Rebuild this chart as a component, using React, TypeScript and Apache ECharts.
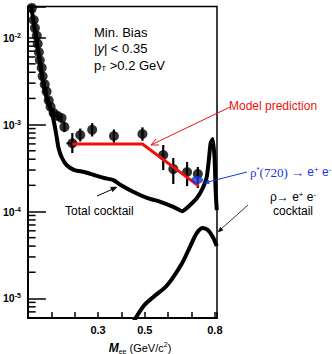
import React, { useEffect, useRef } from 'react';
import * as echarts from 'echarts';

// ---------- data ----------
const xTickLabels = [0.3, 0.5, 0.8];
const minorMultipliers = [2, 3, 4, 5, 6, 7, 8, 9];
const decades = [-6, -5, -4, -3, -2];

const dataMass = [0.017, 0.025, 0.030, 0.038, 0.042, 0.047, 0.051, 0.059, 0.063, 0.072, 0.080, 0.089, 0.097, 0.110, 0.127, 0.144, 0.156, 0.190, 0.224, 0.275, 0.368, 0.490, 0.579, 0.622, 0.681, 0.727];
const dataYield = [0.022, 0.016, 0.0129, 0.0105, 0.0085, 0.0068, 0.0055, 0.0045, 0.0036, 0.0029, 0.0024, 0.0019, 0.0016, 0.00136, 0.00126, 0.00119, 0.00094, 0.00061, 0.00076, 0.00087, 0.00074, 0.00078, 0.000446, 0.000308, 0.000285, 0.00027];
const errLow = [0.020, 0.0146, 0.0118, 0.0096, 0.0078, 0.0062, 0.0050, 0.0041, 0.0033, 0.00265, 0.0022, 0.00174, 0.00146, 0.00124, 0.00113, 0.00106, 0.00082, 0.000471, 0.00064, 0.00073, 0.00062, 0.00065, 0.0003, 0.000207, 0.000196, 0.000186];
const errHigh = [0.024, 0.0175, 0.0141, 0.0115, 0.0093, 0.0074, 0.0060, 0.0049, 0.0039, 0.00317, 0.0026, 0.00208, 0.00175, 0.00149, 0.0014, 0.00133, 0.00108, 0.0008, 0.0009, 0.00104, 0.00088, 0.00093, 0.000582, 0.000413, 0.000372, 0.000325];

// horizontal (bin-width) bar on the first high-mass point
const binLow = [0.165];
const binHigh = [0.211];
const binYield = [0.00061];

const cocktailMass = [0.013, 0.030, 0.047, 0.063, 0.080, 0.101, 0.114, 0.123, 0.131, 0.144, 0.165, 0.199, 0.241, 0.283, 0.326, 0.364, 0.397, 0.452, 0.512, 0.567, 0.622, 0.660, 0.685, 0.723, 0.748, 0.765, 0.774, 0.782, 0.791, 0.799, 0.803, 0.808];
const cocktailYield = [0.0238, 0.0123, 0.0063, 0.00326, 0.00202, 0.0014, 0.00099, 0.00072, 0.000538, 0.000424, 0.000343, 0.0003, 0.000285, 0.000263, 0.000243, 0.000231, 0.000202, 0.000168, 0.000143, 0.000129, 0.000113, 0.000101, 0.000113, 0.000143, 0.000186, 0.000249, 0.00039, 0.000615, 0.000683, 0.00039, 0.000177, 0.000104];

const rhoMass = [0.452, 0.495, 0.537, 0.588, 0.622, 0.660, 0.693, 0.723, 0.748, 0.770, 0.791, 0.808];
const rhoYield = [5.4e-6, 8.2e-6, 1.04e-5, 1.35e-5, 1.76e-5, 2.55e-5, 3.9e-5, 5.66e-5, 6.46e-5, 6.12e-5, 5.09e-5, 4.0e-5];

const modelMass = [0.190, 0.490, 0.731];
const modelYield = [0.000598, 0.000598, 0.000196];

const rhoStarMass = [0.724];
const rhoStarYield = [0.00023];

const X_MAX = 0.809;
const Y_MIN = 5.95e-6;
const Y_MAX = 0.02286;
// minor tick span along x, in axis units (about 7.5 px)
const MINOR_X0 = 0.002;
const MINOR_X1 = 0.033;

const FONT = '"Liberation Sans", Arial, Helvetica, sans-serif';
const SERIF = '"Liberation Serif", "Times New Roman", serif';
const BLUE = '#1638d8';
const RED = '#f01010';

function arrowHead(tip: number[], a: number[], b: number[], fill: string) {
  return { type: 'polygon', shape: { points: [tip, a, b] }, style: { fill, stroke: fill, lineWidth: 0.5 }, z: 100 };
}

export default function App() {
  const ref = useRef<HTMLDivElement>(null);
  useEffect(() => {
    const chart = echarts.init(ref.current!, null, { renderer: 'svg' });

    const minorTicks: number[][] = [];
    decades.forEach((d) => {
      minorMultipliers.forEach((m) => {
        const v = m * Math.pow(10, d);
        if (v > Y_MIN && v < Y_MAX) minorTicks.push([MINOR_X0, MINOR_X1, v]);
      });
    });

    const points = dataMass.map((x, i) => [x, dataYield[i]]);
    const errs = dataMass.map((x, i) => [x, errLow[i], errHigh[i]]);
    const bins = binLow.map((x, i) => [x, binHigh[i], binYield[i]]);

    const supRich = {
      n: { fontSize: 12, fontFamily: FONT, lineHeight: 14 },
      sup: { fontSize: 8, fontFamily: FONT, lineHeight: 6, verticalAlign: 'top' },
      sub: { fontSize: 8, fontFamily: FONT, lineHeight: 6, verticalAlign: 'bottom' },
      i: { fontSize: 13, fontFamily: FONT, fontStyle: 'italic', lineHeight: 15 },
      n13: { fontSize: 13, fontFamily: FONT, lineHeight: 15 },
      serif: { fontSize: 13, fontFamily: SERIF, lineHeight: 14 },
    };

    const text = (x: number, y: number, t: string, fill = '#000') => ({
      type: 'text',
      x,
      y,
      z: 100,
      style: {
        text: t,
        fill,
        font: `12px ${FONT}`,
        align: 'left',
        textAlign: 'left',
        verticalAlign: 'middle',
        textVerticalAlign: 'middle',
        rich: Object.fromEntries(Object.entries(supRich).map(([k, v]) => [k, { ...v, color: fill }])),
      },
    });

    const graphics: any[] = [
      text(94, 32, '{n13|Min. Bias}'),
      text(94, 48, '{n13||}{i|y}{n13|| < 0.35}'),
      text(94, 65, '{n13|p}{sub|T}{n13| >0.2 GeV}'),
      text(229, 106, '{n|Model prediction}', RED),
      text(250, 172, '{serif|ρ}{sup|*}{serif|(720) → }{n|e}{sup|+}{n| e}{sup|-}', BLUE),
      text(270, 197, '{n|ρ→ e}{sup|+}{n| e}{sup|-}'),
      text(273, 211, '{n|cocktail}'),
      text(65, 211, '{n|Total cocktail}'),
      {
        type: 'text',
        x: 140,
        y: 348,
        z: 100,
        style: {
          text: '{m|M}{sub|ee}{n| (GeV/c}{sup|2}{n|)}',
          fill: '#000',
          align: 'center',
          textAlign: 'center',
          verticalAlign: 'middle',
          textVerticalAlign: 'middle',
          rich: {
            m: { fontSize: 12, fontWeight: 'bold', fontStyle: 'italic', fontFamily: FONT, lineHeight: 14 },
            n: { fontSize: 11, fontFamily: FONT, lineHeight: 14 },
            sub: { fontSize: 7, fontFamily: FONT, lineHeight: 5, verticalAlign: 'bottom' },
            sup: { fontSize: 7, fontFamily: FONT, lineHeight: 5, verticalAlign: 'top' },
          },
        },
      },
      // total cocktail arrow
      { type: 'line', shape: { x1: 97, y1: 196, x2: 114, y2: 188.5 }, style: { stroke: '#000', lineWidth: 1 }, z: 100 },
      arrowHead([117, 187], [112.6, 191.7], [110.5, 187.2], '#000'),
      // model prediction arrow
      { type: 'line', shape: { x1: 230, y1: 107, x2: 151, y2: 145 }, style: { stroke: RED, lineWidth: 1 }, z: 100 },
      { type: 'polyline', shape: { points: [[159, 145], [151, 145], [156, 139]] }, style: { stroke: RED, lineWidth: 1, fill: 'none' }, z: 100 },
      // rho* arrow
      { type: 'line', shape: { x1: 247, y1: 172, x2: 207, y2: 182.2 }, style: { stroke: BLUE, lineWidth: 1 }, z: 100 },
      arrowHead([204, 183], [209.3, 183.7], [208.3, 179.9], BLUE),
      // rho cocktail arrow
      { type: 'line', shape: { x1: 248, y1: 205, x2: 220, y2: 230 }, style: { stroke: '#000', lineWidth: 0.8 }, z: 100 },
      arrowHead([218, 232], [223, 230.2], [220.4, 227.2], '#000'),
    ];

    chart.setOption({
      animation: false,
      backgroundColor: '#fff',
      grid: { left: 26, right: 115, top: 6.5, bottom: 36, show: true, borderColor: '#000', borderWidth: 1.5 },
      xAxis: {
        type: 'value',
        min: 0,
        max: X_MAX,
        interval: 0.1,
        axisLine: { show: true, onZero: false, lineStyle: { color: '#000', width: 2 } },
        axisTick: { show: true, inside: true, length: 6, lineStyle: { color: '#000', width: 1.5 } },
        axisLabel: {
          margin: 6,
          color: '#000',
          fontWeight: 'bold',
          fontSize: 11,
          fontFamily: FONT,
          formatter: (v: number) => (xTickLabels.some((t) => Math.abs(t - v) < 1e-6) ? v.toFixed(1) : ''),
        },
        splitLine: { show: false },
      },
      yAxis: {
        type: 'log',
        logBase: 10,
        min: Y_MIN,
        max: Y_MAX,
        axisLine: { show: true, onZero: false, lineStyle: { color: '#000', width: 2 } },
        axisTick: { show: true, inside: true, length: 18, lineStyle: { color: '#000', width: 1.5 } },
        axisLabel: {
          margin: 7,
          color: '#000',
          formatter: (v: number) => {
            const l = Math.log10(v);
            const r = Math.round(l);
            if (Math.abs(l - r) > 1e-6) return '';
            return `{b|10}{s|${r}}`;
          },
          rich: {
            b: { fontSize: 10.5, fontWeight: 'bold', fontFamily: FONT, color: '#000', lineHeight: 12 },
            s: { fontSize: 7, fontWeight: 'bold', fontFamily: FONT, color: '#000', lineHeight: 5, verticalAlign: 'top' },
          },
        },
        splitLine: { show: false },
      },
      series: [
        {
          type: 'custom',
          name: 'minorTicks',
          data: minorTicks,
          encode: { x: [0, 1], y: 2 },
          z: 10,
          silent: true,
          renderItem: (params: any, api: any) => {
            const v = api.value(2);
            const p1 = api.coord([api.value(0), v]);
            const p2 = api.coord([api.value(1), v]);
            return { type: 'line', shape: { x1: p1[0], y1: p1[1], x2: p2[0], y2: p2[1] }, style: { stroke: '#000', lineWidth: 1.5 } };
          },
        },
        {
          type: 'line',
          name: 'Total cocktail',
          data: cocktailMass.map((x, i) => [x, cocktailYield[i]]),
          showSymbol: false,
          smooth: 0.2,
          lineStyle: { color: '#000', width: 4 },
          z: 2,
        },
        {
          type: 'line',
          name: 'rho cocktail',
          data: rhoMass.map((x, i) => [x, rhoYield[i]]),
          showSymbol: false,
          smooth: 0.3,
          lineStyle: { color: '#000', width: 4 },
          z: 2,
        },
        {
          type: 'custom',
          name: 'errors',
          data: errs,
          encode: { x: 0, y: [1, 2] },
          z: 3,
          renderItem: (params: any, api: any) => {
            const x = api.value(0);
            const p1 = api.coord([x, api.value(1)]);
            const p2 = api.coord([x, api.value(2)]);
            return { type: 'line', shape: { x1: p1[0], y1: p1[1], x2: p2[0], y2: p2[1] }, style: { stroke: '#000', lineWidth: 2.2 } };
          },
        },
        {
          type: 'custom',
          name: 'binWidth',
          data: bins,
          encode: { x: [0, 1], y: 2 },
          z: 3,
          renderItem: (params: any, api: any) => {
            const y = api.value(2);
            const p1 = api.coord([api.value(0), y]);
            const p2 = api.coord([api.value(1), y]);
            return { type: 'line', shape: { x1: p1[0], y1: p1[1], x2: p2[0], y2: p2[1] }, style: { stroke: '#000', lineWidth: 2 } };
          },
        },
        {
          type: 'scatter',
          name: 'data',
          data: points,
          symbol: 'circle',
          symbolSize: 10,
          itemStyle: { color: '#000' },
          z: 4,
        },
        {
          type: 'line',
          name: 'Model prediction',
          data: modelMass.map((x, i) => [x, modelYield[i]]),
          showSymbol: false,
          lineStyle: { color: RED, width: 3 },
          z: 5,
        },
        {
          type: 'scatter',
          name: 'rho*',
          data: rhoStarMass.map((x, i) => [x, rhoStarYield[i]]),
          symbol: 'circle',
          symbolSize: [12, 8],
          itemStyle: { color: BLUE },
          z: 6,
        },
      ],
      graphic: graphics,
    });

    return () => chart.dispose();
  }, []);
  return <div ref={ref} style={{ position: 'fixed', left: 0, top: 0, width: 332, height: 354, background: '#fff' }} />;
}
